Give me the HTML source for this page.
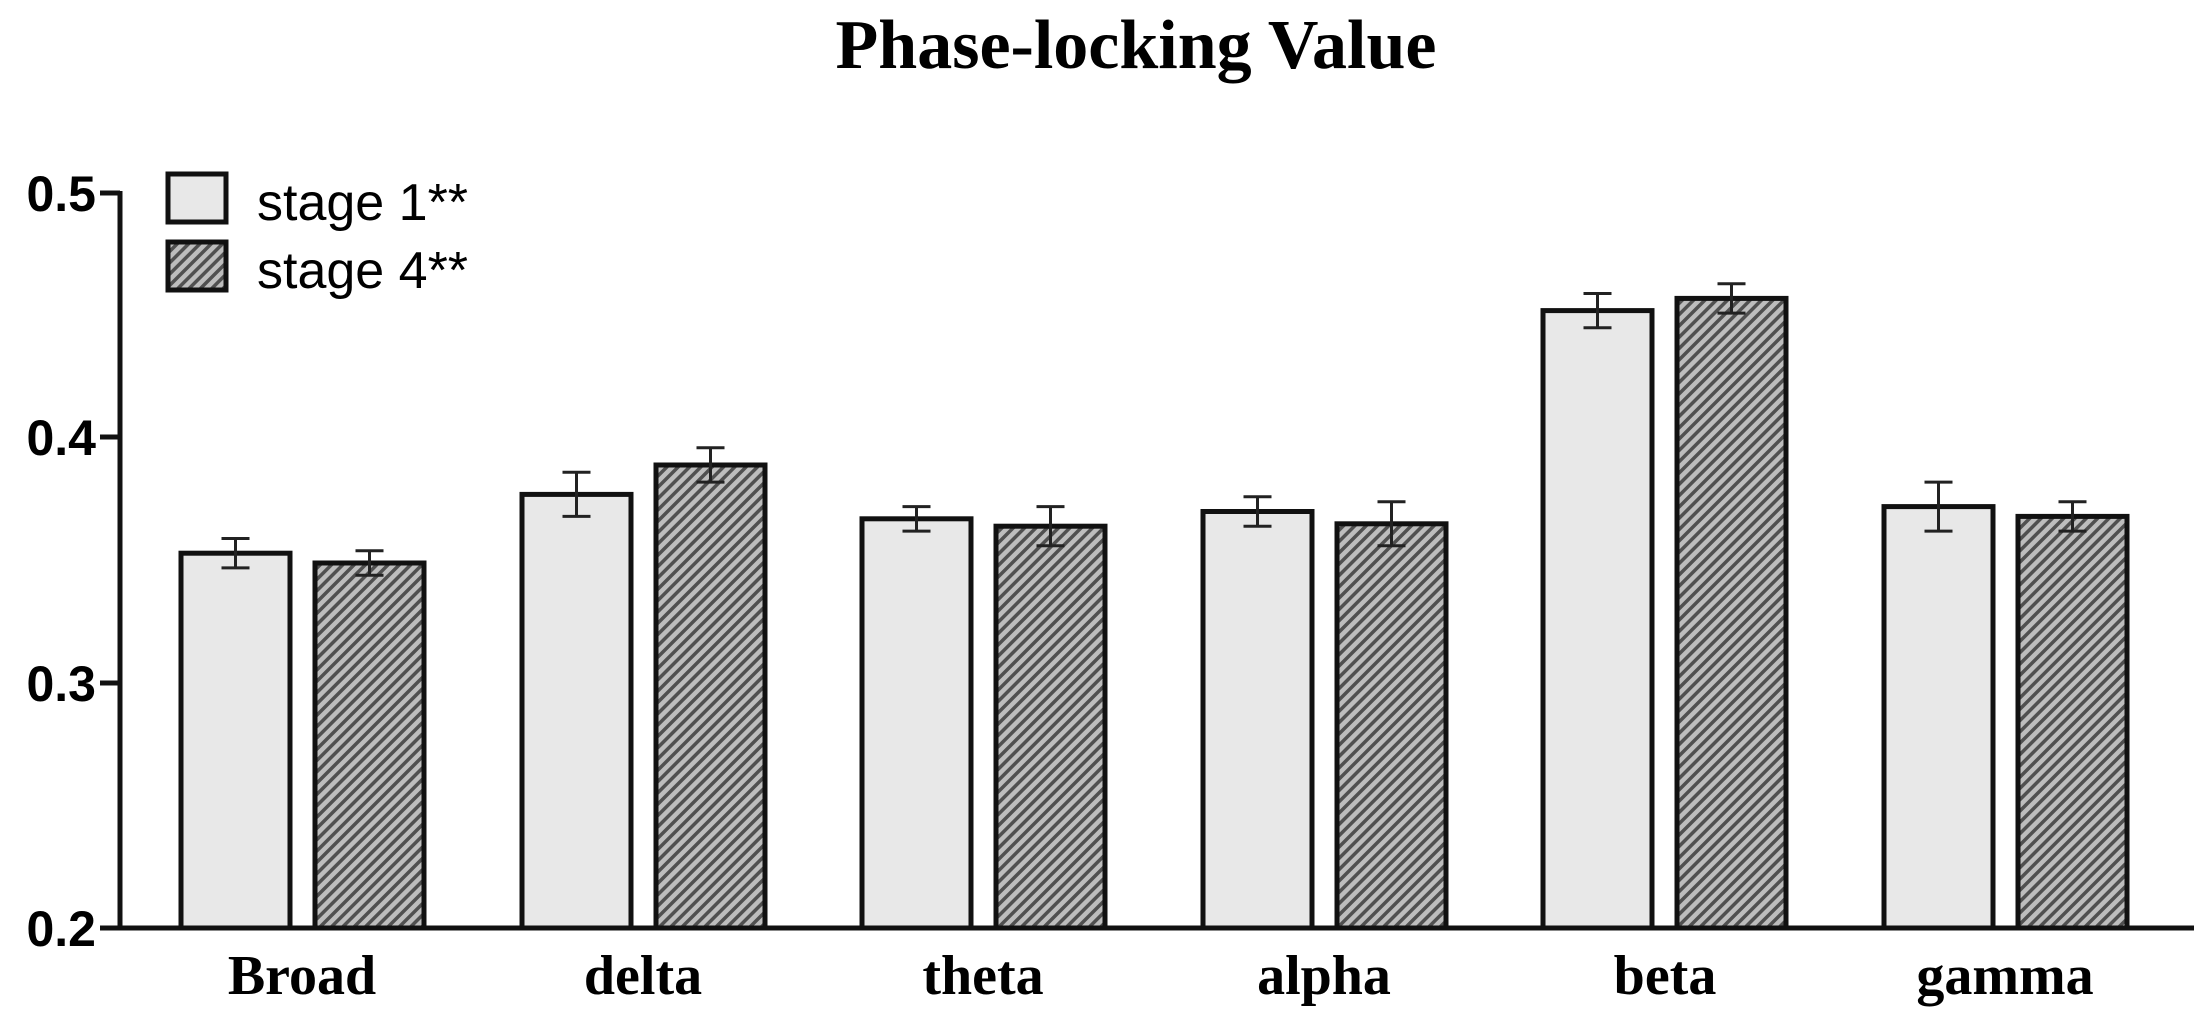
<!DOCTYPE html><html><head><style>body{margin:0;background:#fff}</style></head><body>
<svg width="2212" height="1021" xmlns="http://www.w3.org/2000/svg">
<defs><pattern id="h" width="8" height="8" patternUnits="userSpaceOnUse" patternTransform="rotate(45)"><rect width="8" height="8" fill="#bdbdbd"/><rect width="3.5" height="8" fill="#505050"/></pattern></defs>
<text x="1136" y="68" font-family="Liberation Serif" font-weight="bold" font-size="70" text-anchor="middle">Phase-locking Value</text>
<g font-family="Liberation Sans" font-weight="bold" font-size="50" text-anchor="end">
<text x="96" y="211">0.5</text><text x="96" y="455">0.4</text><text x="96" y="701">0.3</text><text x="96" y="946">0.2</text></g>
<g stroke="#111" stroke-width="5">
<rect x="181" y="553.2" width="109" height="374.8" fill="#e8e8e8"/>
<rect x="315" y="563" width="109" height="365" fill="url(#h)"/>
<rect x="522" y="494.4" width="109" height="433.6" fill="#e8e8e8"/>
<rect x="656" y="465" width="109" height="463" fill="url(#h)"/>
<rect x="862" y="518.8" width="109" height="409.2" fill="#e8e8e8"/>
<rect x="996" y="526.2" width="109" height="401.8" fill="url(#h)"/>
<rect x="1203" y="511.5" width="109" height="416.5" fill="#e8e8e8"/>
<rect x="1337" y="523.8" width="109" height="404.2" fill="url(#h)"/>
<rect x="1543" y="310.6" width="109" height="617.4" fill="#e8e8e8"/>
<rect x="1677" y="298.4" width="109" height="629.6" fill="url(#h)"/>
<rect x="1884" y="506.6" width="109" height="421.4" fill="#e8e8e8"/>
<rect x="2018" y="516.4" width="109" height="411.6" fill="url(#h)"/>
</g>
<g stroke="#222" stroke-width="3" fill="none">
<path d="M235.5 538.5V567.9M221.5 538.5H249.5M221.5 567.9H249.5"/>
<path d="M369.5 550.7V575.2M355.5 550.7H383.5M355.5 575.2H383.5"/>
<path d="M576.5 472.3V516.4M562.5 472.3H590.5M562.5 516.4H590.5"/>
<path d="M710.5 447.8V482.1M696.5 447.8H724.5M696.5 482.1H724.5"/>
<path d="M916.5 506.6V531.1M902.5 506.6H930.5M902.5 531.1H930.5"/>
<path d="M1050.5 506.6V545.8M1036.5 506.6H1064.5M1036.5 545.8H1064.5"/>
<path d="M1257.5 496.8V526.2M1243.5 496.8H1271.5M1243.5 526.2H1271.5"/>
<path d="M1391.5 501.7V545.8M1377.5 501.7H1405.5M1377.5 545.8H1405.5"/>
<path d="M1597.5 293.5V327.8M1583.5 293.5H1611.5M1583.5 327.8H1611.5"/>
<path d="M1731.5 283.7V313.1M1717.5 283.7H1745.5M1717.5 313.1H1745.5"/>
<path d="M1938.5 482.1V531.1M1924.5 482.1H1952.5M1924.5 531.1H1952.5"/>
<path d="M2072.5 501.7V531.1M2058.5 501.7H2086.5M2058.5 531.1H2086.5"/>
</g>
<g stroke="#111" stroke-width="5"><line x1="120" y1="191" x2="120" y2="930"/><line x1="100" y1="193" x2="120" y2="193"/><line x1="100" y1="437" x2="120" y2="437"/><line x1="100" y1="683" x2="120" y2="683"/><line x1="100" y1="928" x2="2194" y2="928"/></g>
<rect x="168" y="174" width="58" height="48" fill="#e8e8e8" stroke="#111" stroke-width="5"/>
<rect x="168" y="242" width="58" height="48" fill="url(#h)" stroke="#111" stroke-width="5"/>
<g font-family="Liberation Sans" font-size="52"><text x="257" y="220">stage 1**</text><text x="257" y="288">stage 4**</text></g>
<g font-family="Liberation Serif" font-weight="bold" font-size="56" text-anchor="middle">
<text x="302" y="994">Broad</text><text x="643" y="994">delta</text><text x="983" y="994">theta</text><text x="1324" y="994">alpha</text><text x="1665" y="994">beta</text><text x="2005" y="994">gamma</text></g>
</svg></body></html>
